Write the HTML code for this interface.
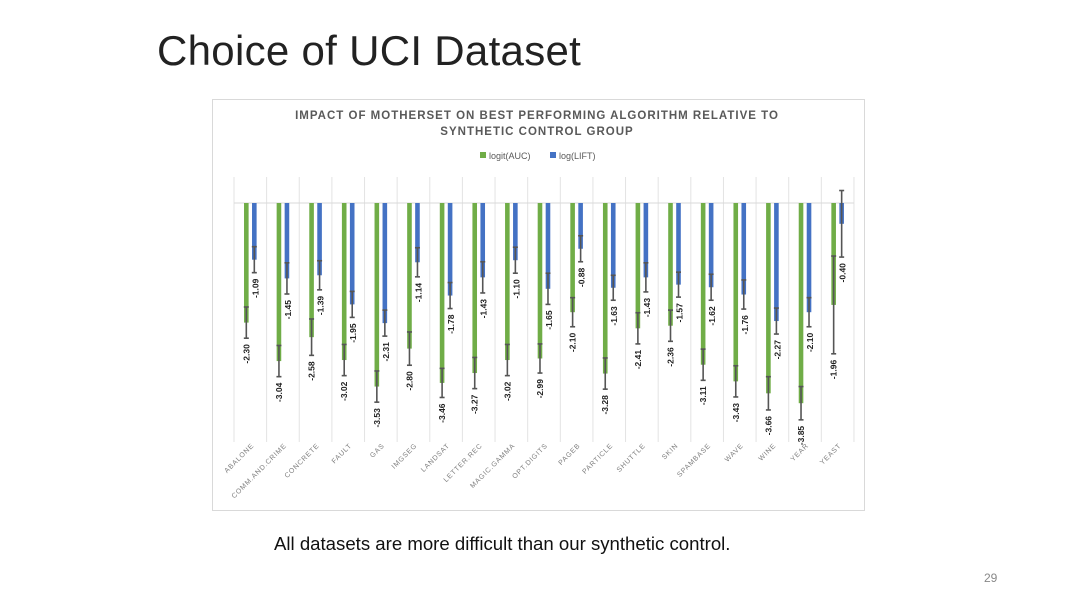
<!DOCTYPE html>
<html><head><meta charset="utf-8"><style>
body{margin:0;width:1080px;height:607px;background:#fff;overflow:hidden;font-family:"Liberation Sans",sans-serif;position:relative}
.t{position:absolute;white-space:nowrap}
</style></head><body>
<div class="t" style="left:157px;top:27px;font-size:42px;color:#222;letter-spacing:0.3px">Choice of UCI Dataset</div>
<div class="t" style="left:274px;top:533px;font-size:18.6px;color:#111">All datasets are more difficult than our synthetic control.</div>
<div class="t" style="left:984px;top:571px;font-size:12px;color:#888">29</div>
<svg id="ch" width="1080" height="607" style="position:absolute;left:0;top:0">
<rect x="212.5" y="99.5" width="652" height="411" fill="none" stroke="#d9d9d9"/>
<text x="537" y="119" text-anchor="middle" font-size="11.5" font-weight="bold" fill="#595959" letter-spacing="1">IMPACT OF MOTHERSET ON BEST PERFORMING ALGORITHM RELATIVE TO</text>
<text x="537" y="135" text-anchor="middle" font-size="11.5" font-weight="bold" fill="#595959" letter-spacing="1">SYNTHETIC CONTROL GROUP</text>
<rect x="480" y="152" width="6" height="6" fill="#70ad47"/>
<text x="489" y="159" font-size="9" fill="#595959">logit(AUC)</text>
<rect x="550" y="152" width="6" height="6" fill="#4472c4"/>
<text x="559" y="159" font-size="9" fill="#595959">log(LIFT)</text>
</svg>
<script>
const categories=["ABALONE","COMM.AND.CRIME","CONCRETE","FAULT","GAS","IMGSEG","LANDSAT","LETTER.REC","MAGIC.GAMMA","OPT.DIGITS","PAGEB","PARTICLE","SHUTTLE","SKIN","SPAMBASE","WAVE","WINE","YEAR","YEAST"];
const aucValues=[-2.30,-3.04,-2.58,-3.02,-3.53,-2.80,-3.46,-3.27,-3.02,-2.99,-2.10,-3.28,-2.41,-2.36,-3.11,-3.43,-3.66,-3.85,-1.96];
const liftValues=[-1.09,-1.45,-1.39,-1.95,-2.31,-1.14,-1.78,-1.43,-1.10,-1.65,-0.88,-1.63,-1.43,-1.57,-1.62,-1.76,-2.27,-2.10,-0.40];
const aucErr=[0.30,0.30,0.35,0.30,0.30,0.32,0.28,0.30,0.30,0.28,0.28,0.30,0.30,0.30,0.30,0.30,0.32,0.32,0.94];
const liftErr=[0.25,0.30,0.28,0.25,0.25,0.28,0.25,0.30,0.25,0.30,0.25,0.24,0.28,0.24,0.25,0.28,0.25,0.28,0.64];
const NS="http://www.w3.org/2000/svg",svg=document.getElementById('ch');
const x0=234,step=32.63,y0=203,k=52,gTop=177,gBot=442;
const xC=i=>x0+step*(i+0.5), y=v=>y0-v*k;
function mk(t,a,p){const e=document.createElementNS(NS,t);for(const n in a)e.setAttribute(n,a[n]);(p||svg).appendChild(e);return e;}
for(let i=0;i<=categories.length;i++){
  const g=mk('line',{x1:x0+step*i,x2:x0+step*i,y1:gTop,y2:gBot,stroke:'#e3e3e3'});
  
  
}
const zl=mk('line',{x1:x0,x2:x0+step*categories.length,y1:y0,y2:y0,stroke:'#d9d9d9'});


function series(vals,errs,dx,color,nm,ldx){
  vals.forEach((v,i)=>{
    const cx=xC(i)+dx;
    const b=mk('rect',{x:cx-2.3,y:y0,width:4.6,height:y(v)-y0,fill:color});
    
    
    const lo=y(v-errs[i]),hi=y(v+errs[i]);
    const eg=mk('g',{stroke:'#555','stroke-width':1.6});
    
    
    mk('line',{x1:cx,x2:cx,y1:hi,y2:lo},eg);
    mk('line',{x1:cx-2.5,x2:cx+2.5,y1:hi,y2:hi},eg);
    mk('line',{x1:cx-2.5,x2:cx+2.5,y1:lo,y2:lo},eg);
    const ly=lo+6, lx=cx+ldx;
    const t=mk('text',{x:lx,y:ly,transform:`rotate(-90 ${lx} ${ly})`,'text-anchor':'end','font-size':8.5,'font-weight':'bold',fill:'#222','dominant-baseline':'central'});
    t.textContent=v.toFixed(2);
    
    
  });
}
series(aucValues,aucErr,-4,'#70ad47','auc',0);
series(liftValues,liftErr,4,'#4472c4','lift',1);
categories.forEach((c,i)=>{
  const lx=xC(i)+4,ly=446;
  const t=mk('text',{x:lx,y:ly,transform:`rotate(-45 ${lx} ${ly})`,'text-anchor':'end','font-size':7,fill:'#7f7f7f','letter-spacing':'0.8'});
  t.textContent=c;
  
  
});
</script>
</body></html>
